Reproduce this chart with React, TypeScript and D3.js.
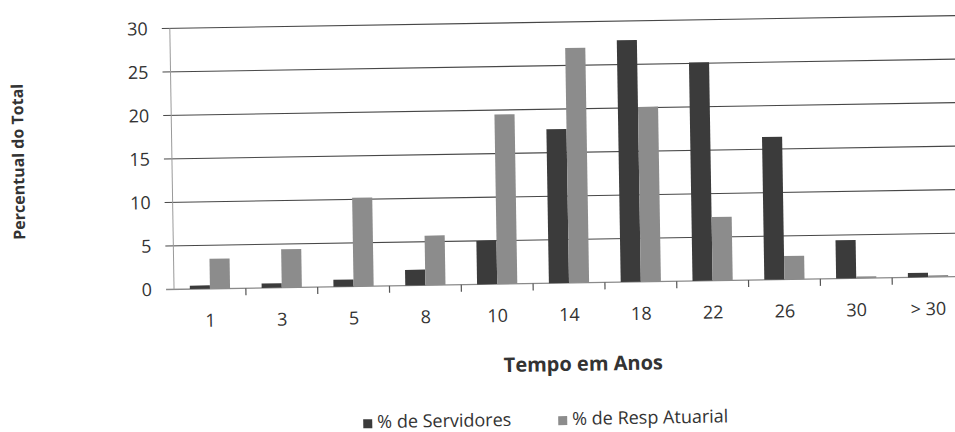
import React from "react";
import * as d3 from "d3";

const W = 955;
const H = 432;

const categories = ["1", "3", "5", "8", "10", "14", "18", "22", "26", "30", "> 30"];
const servidores = [0.4, 0.5, 0.8, 1.8, 5.0, 17.7, 27.8, 25.1, 16.4, 4.4, 0.5];
const respAtuarial = [3.45, 4.4, 10.2, 5.7, 19.5, 27.0, 20.1, 7.3, 2.7, 0.2, 0.2];
const yTicks = [0, 5, 10, 15, 20, 25, 30];
const seriesNames = ["% de Servidores", "% de Resp Atuarial"];
const seriesColors = ["#3b3b3b", "#8c8c8c"];

const FONT = "'Open Sans', sans-serif";

// the scanned page sits a little crooked
const TILT = -0.93;

export default function App() {
  const x = d3.scaleBand<string>()
    .domain(categories)
    .range([172, 962])
    .paddingInner(0.44)
    .paddingOuter(0.22);

  const y = d3.scaleLinear().domain([0, 30]).range([283, 22]);

  const inner = d3.scaleBand<number>()
    .domain([0, 1])
    .range([0, x.bandwidth()])
    .padding(0);

  const step = (962 - 172) / categories.length;
  const boundaries = d3.range(categories.length + 1).map((i) => 172 + i * step);

  const rows = categories.map((c, i) => ({ c, vals: [servidores[i], respAtuarial[i]] }));

  return (
    <svg width={W} height={H} style={{ position: "absolute", left: 0, top: 0, background: "#fff" }}>
      <rect width={W} height={H} fill="#fff" />
      <g transform={`rotate(${TILT}, 565, 160)`} fontFamily={FONT}>
        {/* gridlines + y ticks */}
        {yTicks.map((t) => (
          <g key={t}>
            <line x1={164} x2={W + 20} y1={y(t)} y2={y(t)}
              stroke={t === 0 ? "#8a8a8a" : "#474747"} strokeWidth={t === 0 ? 1.3 : 1.1} />
            <text x={150} y={y(t)} dy="0.36em" textAnchor="end" fontSize={18} fill="#333">
              {t}
            </text>
          </g>
        ))}
        {/* y axis line */}
        <line x1={172} x2={172} y1={y(30)} y2={y(0)} stroke="#9a9a9a" strokeWidth={1} />

        {/* x axis ticks */}
        {boundaries.slice(1).map((b, i) => (
          <line key={i} x1={b} x2={b} y1={y(0)} y2={y(0) + 7} stroke="#555" strokeWidth={1.2} />
        ))}

        {/* bars */}
        {rows.map((r) => (
          <g key={r.c} transform={`translate(${x(r.c)},0)`}>
            {r.vals.map((v, k) => (
              <rect key={k}
                x={inner(k)}
                y={y(v)}
                width={inner.bandwidth()}
                height={y(0) - y(v)}
                fill={seriesColors[k]} />
            ))}
          </g>
        ))}

        {/* category labels */}
        {categories.map((c) => (
          <text key={c} x={(x(c) ?? 0) + x.bandwidth() / 2} y={y(0) + 38}
            textAnchor="middle" fontSize={18} fill="#333">
            {c}
          </text>
        ))}

        {/* axis titles */}
        <text x={580} y={371} textAnchor="middle" fontSize={20} fontWeight="bold" fill="#333">
          Tempo em Anos
        </text>
        <text transform="translate(24,153) rotate(-90)" textAnchor="middle" fontSize={16}
          fontWeight="bold" fill="#333">
          Percentual do Total
        </text>

        {/* legend */}
        {seriesNames.map((n, k) => {
          const lx = [359, 554][k];
          return (
            <g key={n} transform={`translate(${lx},0)`}>
              <rect x={0} y={416} width={9} height={9} fill={seriesColors[k]} />
              <text x={14} y={425} fontSize={18} fill="#333">{n}</text>
            </g>
          );
        })}
      </g>
    </svg>
  );
}
